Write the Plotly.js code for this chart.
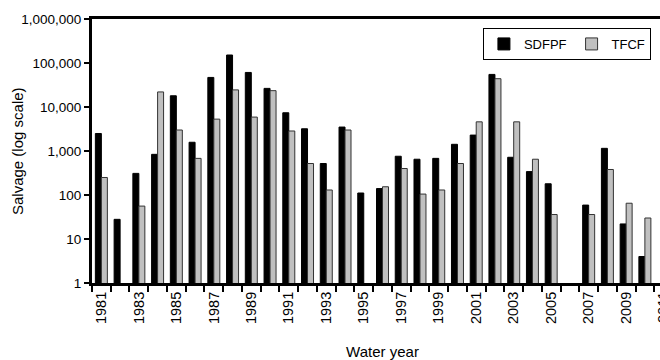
<!DOCTYPE html>
<html>
<head>
<meta charset="utf-8">
<script src="https://cdn.plot.ly/plotly-3.0.1.min.js"></script>
<style>
  html, body { margin: 0; padding: 0; overflow: hidden; background: #fff; }
  #chart { width: 680px; height: 360px; }
</style>
</head>
<body>
<div id="chart"></div>
<script>
// Annual salvage by facility, water years 1981-2011 (null = no salvage recorded)
const years = [1981, 1982, 1983, 1984, 1985, 1986, 1987, 1988, 1989, 1990,
               1991, 1992, 1993, 1994, 1995, 1996, 1997, 1998, 1999, 2000,
               2001, 2002, 2003, 2004, 2005, 2006, 2007, 2008, 2009, 2010, 2011];

const sdfpf = [2500, 28, 310, 840, 18000, 1580, 47000, 152000, 61000, 26500,
               7400, 3200, 520, 3500, 111, 140, 760, 650, 680, 1420,
               2300, 55000, 720, 340, 180, null, 59, 1150, 22, 4, null];

const tfcf = [250, null, 56, 22000, 3000, 680, 5300, 24500, 5900, 23500,
              2850, 520, 130, 3000, null, 154, 400, 105, 130, 520,
              4600, 44000, 4600, 650, 36, null, 36, 380, 65, 30, null];

// Every other water year is labelled
const labelYears = years.filter((y, i) => i % 2 === 0);

const fontFamily = 'Liberation Sans, Arial, sans-serif';

const traces = [
  {
    type: 'bar', name: 'SDFPF', x: years, y: sdfpf,
    marker: { color: '#000000', line: { color: '#000000', width: 1 } }
  },
  {
    type: 'bar', name: 'TFCF', x: years, y: tfcf,
    marker: { color: '#c0c0c0', line: { color: '#333333', width: 1 } }
  }
];

const layout = {
  width: 680, height: 360,
  margin: { l: 92, r: 7, t: 19, b: 77 },
  paper_bgcolor: '#ffffff', plot_bgcolor: '#ffffff',
  font: { family: fontFamily, color: '#000000', size: 14 },
  barmode: 'group', bargap: 0.36, bargroupgap: 0,
  showlegend: true,
  legend: {
    orientation: 'h', x: 0.962, y: 0.966, xanchor: 'right', yanchor: 'top',
    bordercolor: '#000000', borderwidth: 1, bgcolor: '#ffffff',
    font: { size: 13, family: fontFamily }, itemwidth: 30,
    tracegroupgap: 0
  },
  xaxis: {
    type: 'linear', range: [1980.5, 2011.5], autorange: false,
    tickmode: 'array', tickvals: labelYears, ticktext: labelYears.map(String),
    ticks: '', tickangle: -90, tickfont: { size: 14.5 },
    showline: true, linecolor: '#000000', linewidth: 3, mirror: true,
    showgrid: false, zeroline: false,
    minor: { tick0: 1980.5, dtick: 1, ticks: 'outside', ticklen: 6, tickwidth: 2, tickcolor: '#000000', showgrid: false },
    title: { text: 'Water year', font: { size: 15 }, standoff: 24 },
    automargin: false
  },
  yaxis: {
    type: 'log', range: [0, 6], autorange: false,
    dtick: 1, tickformat: ',d',
    ticks: 'outside', ticklen: 5, tickwidth: 2, tickcolor: '#000000',
    tickfont: { size: 13.5 },
    showline: true, linecolor: '#000000', linewidth: 3, mirror: true,
    showgrid: false, zeroline: false,
    automargin: false
  },
  // Vertical axis title, set a little closer to the tick labels than the default title allows
  annotations: [{
    text: 'Salvage (log scale)', textangle: -90,
    xref: 'paper', yref: 'paper', x: 0, y: 0.5,
    xanchor: 'center', yanchor: 'middle', xshift: -75,
    showarrow: false, font: { size: 15, family: fontFamily, color: '#000000' }
  }]
};

Plotly.newPlot('chart', traces, layout, { displayModeBar: false, staticPlot: true });
</script>
</body>
</html>
